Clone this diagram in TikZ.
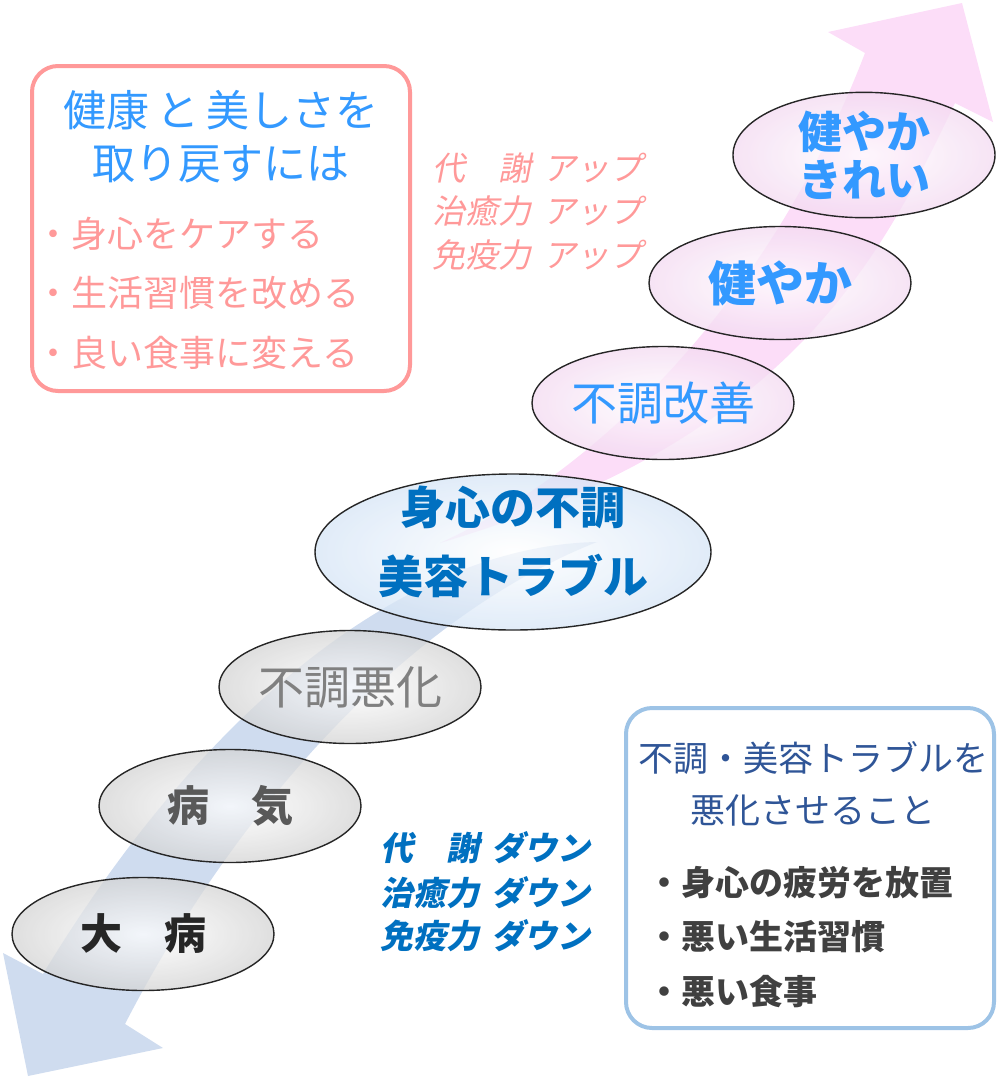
\documentclass[tikz,border=0pt]{standalone}
\usepackage{fontspec}
\usetikzlibrary{shapes.geometric,positioning}
\newfontfamily\jp{Noto Sans CJK JP}
\newfontfamily\jpsl{Noto Sans CJK JP}[FakeSlant=0.2]
\definecolor{skyblue}{RGB}{51,153,255}
\definecolor{rosepink}{RGB}{255,153,153}
\definecolor{deepblue}{RGB}{0,112,192}
\definecolor{navyblue}{RGB}{47,85,151}
\definecolor{paleblue}{RGB}{157,195,230}
\definecolor{upband}{RGB}{252,221,248}
\definecolor{downband}{RGB}{207,220,239}
\definecolor{pinkrim}{RGB}{243,218,241}
\definecolor{grayrim}{RGB}{212,212,212}
\definecolor{bluerim}{RGB}{214,229,246}
\begin{document}
\begin{tikzpicture}[x=1pt, y=-1pt,
  bubble/.style={ellipse, draw=black!85, line width=1.4pt, inner sep=0pt,
    minimum width=262pt, minimum height=113pt, inner color=white,
    fill opacity=0.75, text opacity=1, align=center},
  upbubble/.style={bubble, outer color=pinkrim, text=skyblue},
  downbubble/.style={bubble, outer color=grayrim},
  roundbox/.style={draw, rounded corners=26pt, line width=4pt, inner sep=0pt}]
\useasboundingbox (0,0) rectangle (1004,1080);

\fill [upband] (440,543) .. controls (600,470) and (770,300) .. (865,53)
  -- (828,32) -- (962,3) -- (993,122) -- (955,103)
  .. controls (880,260) and (790,440) .. (440,543) -- cycle;
\fill [downband] (597,542) .. controls (420,545) and (215,690) .. (43,974)
  -- (3,953) -- (28,1076) -- (163,1048) -- (125,1024)
  .. controls (230,820) and (400,620) .. (597,542) -- cycle;

\node (e1) [upbubble, font=\jp\bfseries\fontsize{44}{48}\selectfont] at (864,155) {健やか\\きれい};
\node (e2) [upbubble, font=\jp\bfseries\fontsize{48}{48}\selectfont] at (780,283) {健やか};
\node (e3) [upbubble, font=\jp\fontsize{46}{46}\selectfont] at (663,403) {不調改善};
\node (e4) [bubble, outer color=bluerim, minimum width=396pt, minimum height=156pt] at (513,552) {};
\node (t4) [text=deepblue, align=center, font=\jp\bfseries\fontsize{45}{69}\selectfont] at (e4.center) [yshift=10pt] {身心の不調\\美容トラブル};
\node (e5) [downbubble, text=black!50, font=\jp\fontsize{46}{46}\selectfont] at (350,687) {不調悪化};
\node (e6) [downbubble, text=black!65, font=\jp\bfseries\fontsize{42}{42}\selectfont] at (230,806) {病　気};
\node (e7) [downbubble, text=black!85, font=\jp\bfseries\fontsize{42}{42}\selectfont] at (143,934) {大　病};

\node (lbox) [roundbox, draw=rosepink, minimum width=378pt, minimum height=325pt] at (221,228.5) {};
\node (h1) [text=skyblue, font=\jp\fontsize{43}{43}\selectfont] at (221,110) {健康\hspace{7pt}と\hspace{7pt}美しさを};
\node (h2) [below of=h1, node distance=54pt, text=skyblue, font=\jp\fontsize{43}{43}\selectfont] {取り戻すには};
\node (b1) [anchor=west, inner sep=0pt, text=rosepink, font=\jp\fontsize{36}{36}\selectfont] at (35,234) {・身心をケアする};
\node (b2) [anchor=west, inner sep=0pt, text=rosepink, font=\jp\fontsize{36}{36}\selectfont] at (35,293) {・生活習慣を改める};
\node (b3) [anchor=west, inner sep=0pt, text=rosepink, font=\jp\fontsize{36}{36}\selectfont] at (35,353) {・良い食事に変える};

\node (u1) [anchor=west, inner sep=0pt, text=rosepink, font=\jpsl\fontsize{33}{33}\selectfont] at (432,168) {代　謝\hspace{12pt}アップ};
\node (u2) [anchor=west, inner sep=0pt, text=rosepink, font=\jpsl\fontsize{33}{33}\selectfont] at (432,211) {治癒力\hspace{12pt}アップ};
\node (u3) [anchor=west, inner sep=0pt, text=rosepink, font=\jpsl\fontsize{33}{33}\selectfont] at (432,255) {免疫力\hspace{12pt}アップ};

\node (d1) [anchor=west, inner sep=0pt, text=deepblue, font=\jpsl\bfseries\fontsize{33}{33}\selectfont] at (380,848) {代　謝\hspace{12pt}ダウン};
\node (d2) [anchor=west, inner sep=0pt, text=deepblue, font=\jpsl\bfseries\fontsize{33}{33}\selectfont] at (380,893) {治癒力\hspace{12pt}ダウン};
\node (d3) [anchor=west, inner sep=0pt, text=deepblue, font=\jpsl\bfseries\fontsize{33}{33}\selectfont] at (380,936) {免疫力\hspace{12pt}ダウン};

\node (rbox) [roundbox, draw=paleblue, minimum width=368pt, minimum height=320pt] at (810,868) {};
\node (g1) [text=navyblue, font=\jp\fontsize{35}{35}\selectfont] at (813,758) {不調・美容トラブルを};
\node (g2) [below of=g1, node distance=52pt, text=navyblue, font=\jp\fontsize{35}{35}\selectfont] {悪化させること};
\node (c1) [anchor=west, inner sep=0pt, text=black!75, font=\jp\bfseries\fontsize{34}{34}\selectfont] at (647,883) {・身心の疲労を放置};
\node (c2) [anchor=west, inner sep=0pt, text=black!75, font=\jp\bfseries\fontsize{34}{34}\selectfont] at (647,937) {・悪い生活習慣};
\node (c3) [anchor=west, inner sep=0pt, text=black!75, font=\jp\bfseries\fontsize{34}{34}\selectfont] at (647,992) {・悪い食事};
\end{tikzpicture}
\end{document}
